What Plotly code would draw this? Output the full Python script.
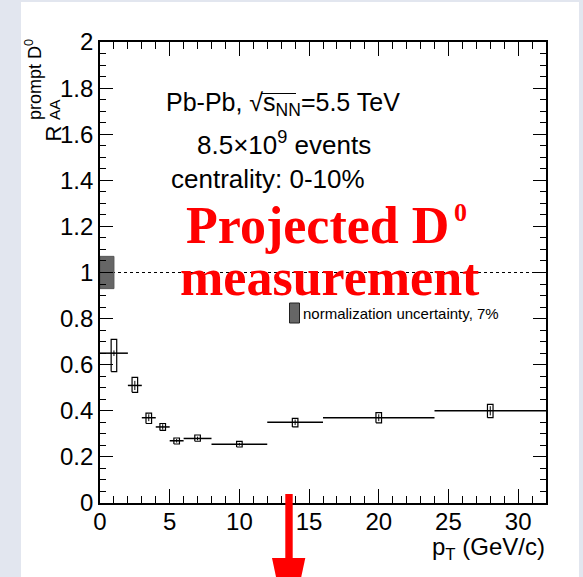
import plotly.graph_objects as go

# ---------------- data ----------------
bin_lo   = [0, 2, 3, 4, 5, 6, 8, 12, 16, 24]
bin_hi   = [2, 3, 4, 5, 6, 8, 12, 16, 24, 32]
pt       = [1, 2.5, 3.5, 4.5, 5.5, 7, 10, 14, 20, 28]
raa      = [0.65, 0.51, 0.37, 0.33, 0.27, 0.28, 0.255, 0.35, 0.37, 0.40]
stat_err = [0.012, 0.02, 0.015, 0.012, 0.008, 0.008, 0.006, 0.012, 0.015, 0.02]
sys_lo   = [0.57, 0.48, 0.345, 0.315, 0.256, 0.268, 0.243, 0.33, 0.348, 0.37]
sys_hi   = [0.71, 0.545, 0.39, 0.345, 0.282, 0.295, 0.267, 0.367, 0.392, 0.428]
SYS_BOX_HALFWIDTH = 0.2
REF_LEVEL = 1.0
NORM_UNC = 0.07
NORM_BOX_X = [0, 1]
X_RANGE = [0, 32]
Y_RANGE = [0, 2]
x_ticks = [0, 5, 10, 15, 20, 25, 30]
y_ticks = [0, 0.2, 0.4, 0.6, 0.8, 1, 1.2, 1.4, 1.6, 1.8, 2]

W, H = 583, 577
L, R, T, B = 100, 37, 42, 74
PW, PH = W - L - R, H - T - B


def px(x):
    return (x - L) / PW


def py(y):
    return (H - B - y) / PH


FONT = "Liberation Sans, Arial, sans-serif"
SERIF = "Liberation Serif, Times New Roman, serif"

fig = go.Figure()

# reference line at 1
fig.add_trace(go.Scatter(x=X_RANGE, y=[REF_LEVEL, REF_LEVEL], mode="lines",
                         line=dict(color="black", width=1, dash="3px,3px"),
                         hoverinfo="skip", showlegend=False))

# normalization uncertainty box
nx0, nx1 = NORM_BOX_X
fig.add_trace(go.Scatter(
    x=[nx0, nx1, nx1, nx0, nx0],
    y=[REF_LEVEL - NORM_UNC, REF_LEVEL - NORM_UNC, REF_LEVEL + NORM_UNC,
       REF_LEVEL + NORM_UNC, REF_LEVEL - NORM_UNC],
    mode="lines", fill="toself", fillcolor="#666666",
    line=dict(color="#555555", width=1), hoverinfo="skip", showlegend=False))

# systematic boxes
bx, by = [], []
for xc, lo, hi in zip(pt, sys_lo, sys_hi):
    x0, x1 = xc - SYS_BOX_HALFWIDTH, xc + SYS_BOX_HALFWIDTH
    bx += [x0, x1, x1, x0, x0, None]
    by += [lo, lo, hi, hi, lo, None]
fig.add_trace(go.Scatter(x=bx, y=by, mode="lines",
                         line=dict(color="black", width=1.2),
                         hoverinfo="skip", showlegend=False))

# points with bin-width and stat errors
xerr_p = [h - c for h, c in zip(bin_hi, pt)]
xerr_m = [c - l for l, c in zip(bin_lo, pt)]
fig.add_trace(go.Scatter(
    x=pt, y=raa, mode="markers",
    marker=dict(size=1, color="black"),
    error_x=dict(type="data", symmetric=False, array=xerr_p, arrayminus=xerr_m,
                 color="black", thickness=1.5, width=0),
    error_y=dict(type="data", array=stat_err, color="black", thickness=1, width=0),
    showlegend=False))

# ---------------- layout ----------------
axis_common = dict(showline=True, linecolor="black", linewidth=1.6, mirror="ticks",
                   ticks="inside", tickcolor="black", tickwidth=1,
                   showgrid=False, zeroline=False,
                   tickfont=dict(family=FONT, size=24, color="black"))

fig.update_layout(
    width=W, height=H,
    margin=dict(l=L, r=R, t=T, b=B),
    paper_bgcolor="#e2e6ef", plot_bgcolor="white",
    xaxis=dict(range=X_RANGE, tickvals=x_ticks, ticklen=14, ticklabelstandoff=-4,
               minor=dict(dtick=1, ticklen=7, ticks="inside", tickcolor="black"),
               **axis_common),
    yaxis=dict(range=Y_RANGE, tickvals=y_ticks, ticklen=13,
               minor=dict(dtick=0.05, ticklen=6, ticks="inside", tickcolor="black"),
               **axis_common),
    showlegend=False,
)

shapes = [
    # white slide area
    dict(type="rect", xref="paper", yref="paper", layer="below",
         x0=px(21), x1=px(579), y0=py(580), y1=py(2),
         fillcolor="white", line=dict(width=0)),
    # legend box
    dict(type="rect", xref="paper", yref="paper",
         x0=px(289.5), x1=px(299.5), y0=py(323), y1=py(303),
         fillcolor="#666666", line=dict(color="#222222", width=1)),
    # sqrt overline
    dict(type="line", xref="paper", yref="paper",
         x0=px(261), x1=px(296), y0=py(93.5), y1=py(93.5),
         line=dict(color="black", width=1.2)),
    # red arrow shaft
    dict(type="rect", xref="paper", yref="paper",
         x0=px(285.3), x1=px(292.7), y0=py(559), y1=py(494),
         fillcolor="red", line=dict(width=0)),
    # red arrow head
    dict(type="path", xref="paper", yref="paper",
         path=f"M {px(272)} {py(558)} L {px(305.3)} {py(558)} L {px(288.6)} {py(636)} Z",
         fillcolor="red", line=dict(width=0)),
]
fig.update_layout(shapes=shapes)

ann = []


def A(text, x, y, size, xanchor="left", yanchor="middle", family=FONT, color="black",
      angle=0):
    ann.append(dict(text=text, x=px(x), y=py(y), xref="paper", yref="paper",
                    xanchor=xanchor, yanchor=yanchor, showarrow=False,
                    textangle=angle, font=dict(family=family, size=size, color=color)))


A("Pb-Pb, √s<sub>NN</sub>=5.5 TeV", 282.5, 104, 25, xanchor="center")
A("8.5×10<sup>9</sup> events", 284, 143, 26, xanchor="center")
A("centrality: 0-10%", 267.5, 179, 26, xanchor="center")

A("<b>Projected D</b>", 317, 225, 52, xanchor="center", family=SERIF, color="red")
A("<b>0</b>", 460, 212, 26, xanchor="center", family=SERIF, color="red")
A("<b>measurement</b>", 329.5, 277, 52, xanchor="center", family=SERIF, color="red")

A("normalization uncertainty, 7%", 301, 313, 15)

A("p<sub>T</sub> (GeV/c)", 547, 548, 24, xanchor="right")

A("R", 53, 133.5, 22, xanchor="center", angle=-90)
A("AA", 54, 110, 15.5, xanchor="center", angle=-90)
A("prompt D<sup>0</sup>", 33, 80, 18, xanchor="center", angle=-90)

fig.update_layout(annotations=ann)

fig.write_html("out.html")
